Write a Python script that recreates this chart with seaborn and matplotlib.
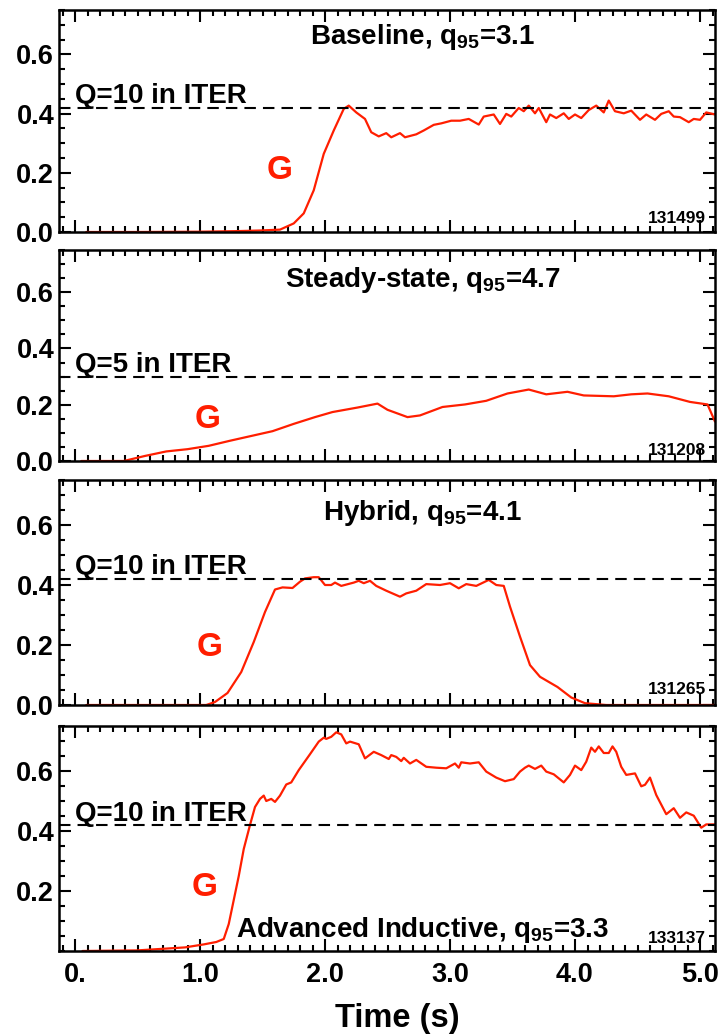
import matplotlib
matplotlib.use("Agg")
import matplotlib.pyplot as plt
from matplotlib.ticker import MultipleLocator, FixedLocator
import seaborn as sns
import pandas as pd

# ---------------- data ----------------
t1 = [0.09, 0.5, 1.0, 1.3, 1.48, 1.64, 1.75, 1.83, 1.91, 1.99, 2.07, 2.15, 2.19, 2.25, 2.32,
      2.37, 2.43, 2.49, 2.53, 2.60, 2.64, 2.73, 2.79, 2.87, 2.93, 3.01, 3.08, 3.15, 3.23, 3.27,
      3.35, 3.40, 3.45, 3.49, 3.55, 3.59, 3.63, 3.68, 3.71, 3.77, 3.80, 3.85, 3.91, 3.95, 4.00,
      4.05, 4.11, 4.17, 4.23, 4.27, 4.32, 4.39, 4.45, 4.52, 4.57, 4.64, 4.69, 4.75, 4.79, 4.84,
      4.91, 4.95, 5.00, 5.05, 5.12]
g1 = [0.0, 0.0, 0.001, 0.003, 0.005, 0.008, 0.029, 0.063, 0.141, 0.264, 0.343, 0.416, 0.427, 0.404, 0.382,
      0.337, 0.323, 0.334, 0.320, 0.334, 0.320, 0.330, 0.343, 0.362, 0.367, 0.376, 0.376, 0.382, 0.363, 0.390,
      0.397, 0.365, 0.399, 0.390, 0.419, 0.408, 0.427, 0.401, 0.419, 0.371, 0.397, 0.385, 0.401, 0.382, 0.397,
      0.385, 0.412, 0.427, 0.404, 0.444, 0.408, 0.401, 0.410, 0.379, 0.397, 0.379, 0.399, 0.408, 0.390, 0.388,
      0.371, 0.382, 0.379, 0.404, 0.397]

t2 = [0.05, 0.39, 0.56, 0.73, 0.90, 1.07, 1.24, 1.42, 1.58, 1.75, 1.92, 2.06, 2.26, 2.42, 2.50,
      2.66, 2.76, 2.94, 3.12, 3.29, 3.46, 3.63, 3.77, 3.94, 4.07, 4.31, 4.45, 4.58, 4.75, 4.92,
      5.06, 5.12]
g2 = [0.0, 0.0, 0.018, 0.034, 0.042, 0.054, 0.072, 0.090, 0.106, 0.132, 0.156, 0.174, 0.19, 0.204, 0.182,
      0.156, 0.162, 0.192, 0.201, 0.214, 0.240, 0.254, 0.237, 0.246, 0.233, 0.230, 0.237, 0.240, 0.230, 0.21,
      0.201, 0.14]

t3 = [0.09, 0.6, 1.05, 1.12, 1.22, 1.33, 1.43, 1.52, 1.60, 1.66, 1.74, 1.80, 1.84, 1.91, 1.95,
      2.00, 2.05, 2.08, 2.13, 2.23, 2.27, 2.31, 2.36, 2.41, 2.49, 2.60, 2.65, 2.73, 2.81, 2.92,
      3.00, 3.07, 3.13, 3.21, 3.31, 3.37, 3.43, 3.48, 3.56, 3.64, 3.72, 3.86, 3.97, 4.08, 4.25, 5.12]
g3 = [0.0, 0.0, 0.0, 0.01, 0.04, 0.11, 0.21, 0.31, 0.385, 0.392, 0.39, 0.411, 0.422, 0.426, 0.426,
      0.40, 0.40, 0.408, 0.397, 0.408, 0.414, 0.406, 0.414, 0.397, 0.381, 0.361, 0.372, 0.381, 0.403, 0.40,
      0.406, 0.389, 0.403, 0.397, 0.417, 0.40, 0.397, 0.328, 0.228, 0.133, 0.094, 0.06, 0.025, 0.006, 0.0, 0.0]

t4 = [0.06, 0.5, 0.88, 1.03, 1.13, 1.19, 1.23, 1.27, 1.31, 1.35, 1.40, 1.44, 1.48, 1.51, 1.53,
      1.57, 1.60, 1.64, 1.69, 1.73, 1.79, 1.88, 1.95, 1.99, 2.01, 2.05, 2.09, 2.13, 2.17, 2.20,
      2.27, 2.32, 2.39, 2.45, 2.51, 2.53, 2.57, 2.61, 2.63, 2.68, 2.73, 2.81, 2.89, 2.97, 3.04,
      3.07, 3.09, 3.16, 3.23, 3.29, 3.37, 3.44, 3.51, 3.56, 3.60, 3.63, 3.68, 3.73, 3.77, 3.83,
      3.91, 3.96, 4.00, 4.05, 4.09, 4.13, 4.16, 4.19, 4.23, 4.27, 4.30, 4.33, 4.37, 4.41, 4.48,
      4.53, 4.56, 4.60, 4.65, 4.73, 4.79, 4.84, 4.89, 4.95, 5.01, 5.05, 5.12]
g4 = [0.0, 0.002, 0.012, 0.022, 0.03, 0.04, 0.09, 0.17, 0.25, 0.34, 0.42, 0.48, 0.507, 0.518, 0.500,
      0.507, 0.497, 0.518, 0.555, 0.562, 0.603, 0.656, 0.698, 0.711, 0.707, 0.714, 0.729, 0.722, 0.692, 0.698,
      0.689, 0.642, 0.664, 0.653, 0.640, 0.653, 0.647, 0.633, 0.644, 0.625, 0.637, 0.614, 0.611, 0.609, 0.625,
      0.611, 0.629, 0.625, 0.629, 0.598, 0.578, 0.566, 0.573, 0.598, 0.611, 0.618, 0.607, 0.618, 0.598, 0.589,
      0.562, 0.587, 0.618, 0.603, 0.631, 0.678, 0.664, 0.682, 0.660, 0.660, 0.682, 0.664, 0.614, 0.587, 0.592,
      0.549, 0.554, 0.578, 0.520, 0.456, 0.476, 0.444, 0.462, 0.451, 0.411, 0.422, 0.422]

titles = [r"Baseline, q$_{95}$=3.1", r"Steady-state, q$_{95}$=4.7",
          r"Hybrid, q$_{95}$=4.1", r"Advanced Inductive, q$_{95}$=3.3"]
iter_labels = ["Q=10 in ITER", "Q=5 in ITER", "Q=10 in ITER", "Q=10 in ITER"]
iter_levels = [0.42, 0.30, 0.42, 0.42]
shots = ["131499", "131208", "131265", "133137"]
ytick_vals = [0.0, 0.2, 0.4, 0.6]
ytick_labels = ["0.0", "0.2", "0.4", "0.6"]
xtick_vals = [0, 1, 2, 3, 4, 5]
xtick_labels = ["0.", "1.0", "2.0", "3.0", "4.0", "5.0"]
xlabel = "Time (s)"

# ---------------- style ----------------
sns.set_theme(style="ticks")
plt.rcParams["font.family"] = ["Liberation Sans", "DejaVu Sans"]
plt.rcParams["font.weight"] = "bold"
plt.rcParams["mathtext.fontset"] = "custom"
plt.rcParams["mathtext.rm"] = "Liberation Sans:bold"
plt.rcParams["mathtext.it"] = "Liberation Sans:bold"
plt.rcParams["mathtext.bf"] = "Liberation Sans:bold"

RED = "#ff1e00"
W, H = 721, 1034
fig = plt.figure(figsize=(W / 100, H / 100), dpi=100)

# pixel boxes (top, bottom) of each panel
boxes = [(10, 232), (250, 461), (480, 705), (726, 951)]
left_px, right_px = 59, 715

title_y = [0.634, 0.62, 0.617, 0.047]
qtext_y = [0.437, 0.318, 0.438, 0.434]
g_pos = [(1.64, 0.208), (1.06, 0.148), (1.08, 0.19), (1.04, 0.21)]
shot_y = [0.03, 0.02, 0.035, 0.027]

series = [(t1, g1), (t2, g2), (t3, g3), (t4, g4)]

for i, ((top, bot), (tt, gg)) in enumerate(zip(boxes, series)):
    ax = fig.add_axes([left_px / W, 1 - bot / H, (right_px - left_px) / W, (bot - top) / H])
    df = pd.DataFrame({"t": tt, "G": gg})
    sns.lineplot(data=df, x="t", y="G", ax=ax, color=RED, linewidth=1.6,
                 estimator=None, sort=False, legend=False)
    ax.axhline(iter_levels[i], color="black", linewidth=1.5, dashes=(5.5, 3.4))
    ax.set_xlim(-0.128, 5.12)
    ax.set_ylim(0, 0.75)
    ax.set_xlabel("")
    ax.set_ylabel("")
    ax.xaxis.set_major_locator(FixedLocator(xtick_vals))
    ax.xaxis.set_minor_locator(MultipleLocator(0.1))
    if i < 3:
        ax.yaxis.set_major_locator(FixedLocator(ytick_vals))
        ax.set_yticklabels(ytick_labels)
    else:
        ax.yaxis.set_major_locator(FixedLocator(ytick_vals[1:]))
        ax.set_yticklabels(ytick_labels[1:])
    ax.yaxis.set_minor_locator(MultipleLocator(0.05))
    ax.tick_params(which="both", direction="in", top=True, right=True, width=1.5, colors="black")
    ax.tick_params(which="major", length=8.5)
    ax.tick_params(which="minor", length=4.2)
    ax.tick_params(axis="y", labelsize=19.5, pad=3.5)
    if i == 3:
        ax.set_xticklabels(xtick_labels)
        ax.tick_params(axis="x", labelsize=19.5, pad=8)
    else:
        ax.tick_params(axis="x", labelbottom=False)
    for lab in ax.get_xticklabels() + ax.get_yticklabels():
        lab.set_fontweight("bold")
    for sp in ax.spines.values():
        sp.set_linewidth(1.8)
        sp.set_color("black")
        sp.set_visible(True)

    ax.text(2.78, title_y[i], titles[i], ha="center", va="baseline", fontsize=20,
            fontweight="bold", color="black")
    ax.text(0.0, qtext_y[i], iter_labels[i], ha="left", va="baseline", fontsize=20,
            fontweight="bold", color="black")
    ax.text(g_pos[i][0], g_pos[i][1], "G", ha="center", va="center", fontsize=24,
            fontweight="bold", color=RED)
    ax.text(5.05, shot_y[i], shots[i], ha="right", va="baseline", fontsize=12.5,
            fontweight="bold", color="black")

fig.text(397 / W, 1 - 1027 / H, xlabel, ha="center", va="baseline", fontsize=23.5,
         fontweight="bold", color="black")

fig.savefig("out.png", dpi=100)
